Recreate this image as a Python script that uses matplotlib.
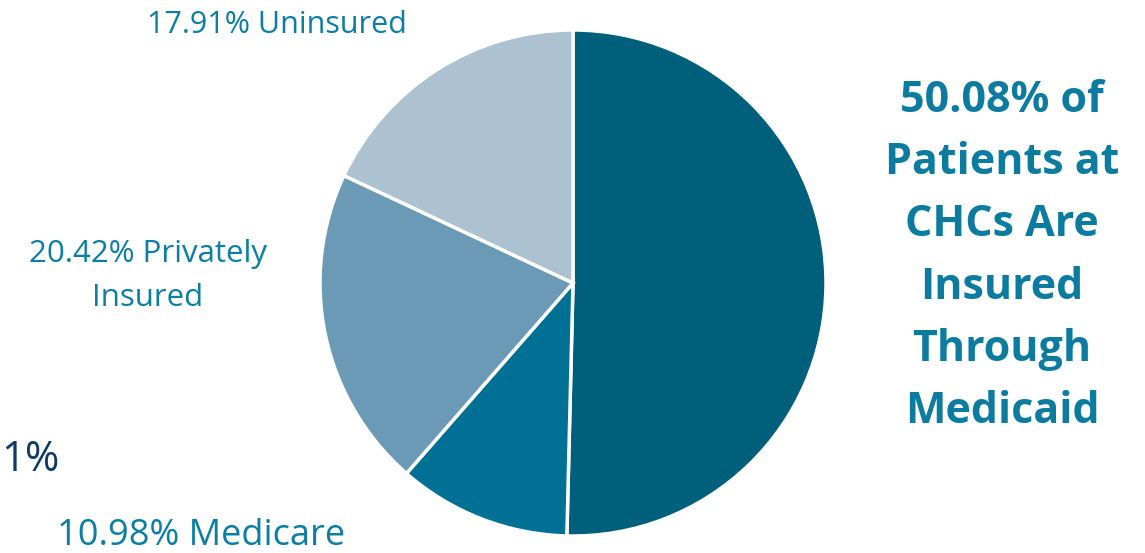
import matplotlib.pyplot as plt

plt.rcParams['font.family'] = ['Open Sans', 'DejaVu Sans']

# 数据
categories = ['Medicaid', 'Medicare', 'Privately Insured', 'Uninsured']
shares = [50.08, 10.98, 20.42, 17.91]
colors = ['#00607c', '#007095', '#6a9ab6', '#acc2d1']

W, H = 1145, 553
fig = plt.figure(figsize=(W / 100, H / 100), dpi=100)

# 饼图位置（像素）
cx, cy, r = 573, 283, 253
ax = fig.add_axes([(cx - r) / W, (H - cy - r) / H, 2 * r / W, 2 * r / H])
ax.pie(shares, colors=colors, startangle=90, counterclock=False,
       wedgeprops=dict(edgecolor='white', linewidth=2.5))
ax.set_xlim(-1, 1)
ax.set_ylim(-1, 1)
ax.set_aspect('equal')
ax.axis('off')

label_color = '#0a7ea4'


def px(x, y):
    return x / W, 1 - y / H


fig.text(*px(277, 25), f'{shares[3]:.2f}% Uninsured', color=label_color,
         fontsize=22, ha='center', va='center')
fig.text(*px(148, 276), f'{shares[2]:.2f}% Privately\nInsured', color=label_color,
         fontsize=22.5, ha='center', va='center', linespacing=1.62)
fig.text(*px(201, 536), f'{shares[1]:.2f}% Medicare', color=label_color,
         fontsize=26, ha='center', va='center')
fig.text(*px(1, 460), '1%', color='#0d3b66', fontsize=30, ha='left', va='center')

fig.text(*px(1002, 256),
         f'{shares[0]:.2f}% of\nPatients at\nCHCs Are\nInsured\nThrough\nMedicaid',
         color='#0b7ca0', fontsize=31, fontweight='bold', ha='center', va='center',
         linespacing=1.58)

fig.savefig('out.png', dpi=100, facecolor='white')
